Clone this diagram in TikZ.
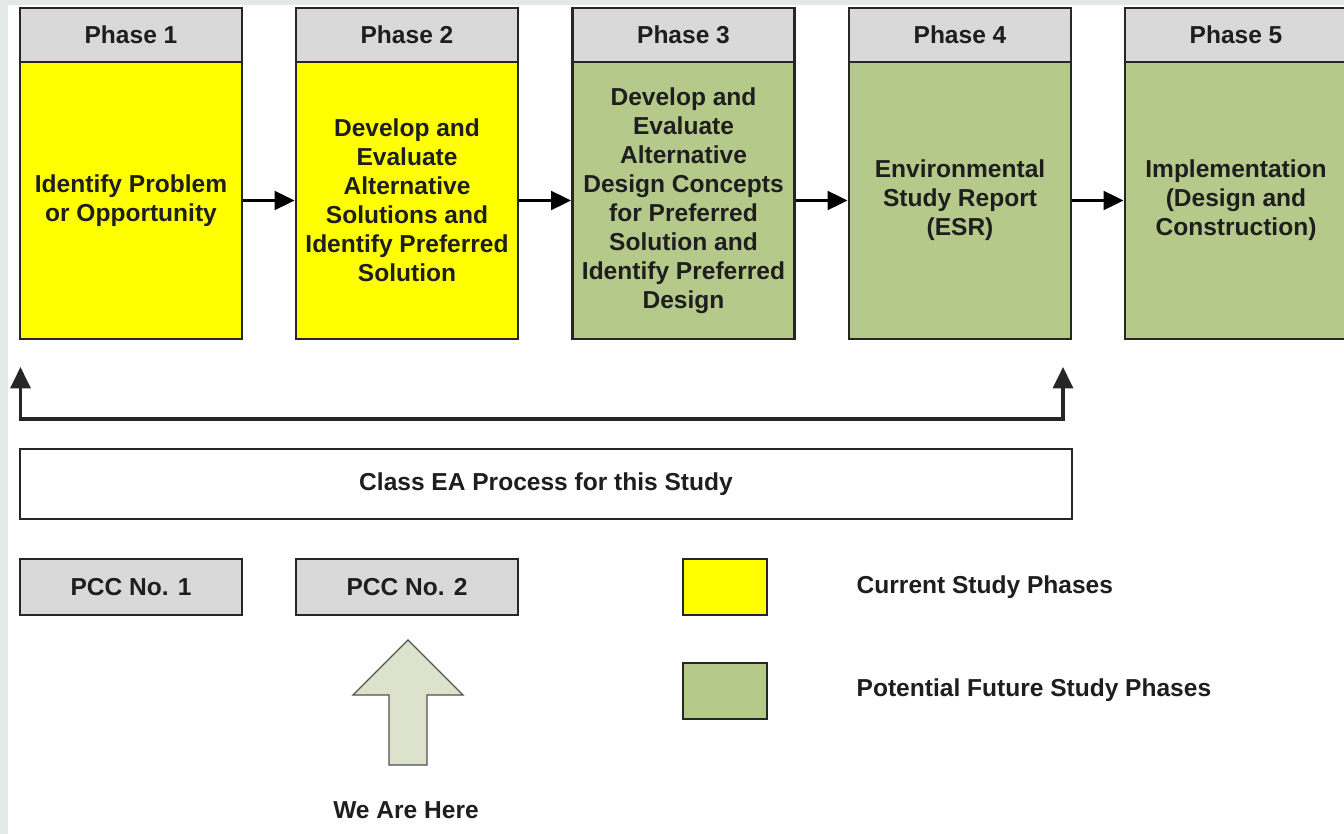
\documentclass[tikz,border=0pt]{standalone}
\usepackage{fontspec}
\setmainfont{Liberation Sans}
\usetikzlibrary{arrows.meta,calc}
\definecolor{hdrgray}{HTML}{D9D9D9}
\definecolor{curyellow}{HTML}{FFFF00}
\definecolor{futgreen}{HTML}{B5C98A}
\definecolor{edgedark}{HTML}{262626}
\definecolor{stripgray}{HTML}{E4E8E8}
\definecolor{herefill}{HTML}{DDE2CC}
\definecolor{txt}{HTML}{1E1E1E}
\begin{document}
\begin{tikzpicture}[x=0.75pt,y=-0.75pt,
  every node/.style={font=\fontsize{18.4}{21.75}\selectfont\bfseries, text=txt},
  box/.style={draw=edgedark, line width=2.1pt, rectangle, inner sep=0pt, align=center},
  hdr/.style={box, fill=hdrgray, minimum width=222*0.75pt, minimum height=54*0.75pt},
  body/.style={box, minimum width=222*0.75pt, minimum height=277*0.75pt},
  cur/.style={fill=curyellow},
  fut/.style={fill=futgreen},
  flow/.style={draw=black, line width=2.3pt, -{Triangle[length=15pt,width=14pt]}},
  loopline/.style={draw=edgedark, line width=2.3pt, {Triangle[length=16pt,width=15pt]}-{Triangle[length=16pt,width=15pt]}},
  legendbox/.style={box, minimum width=84*0.75pt, minimum height=56*0.75pt},
  legtext/.style={anchor=west}
]
\useasboundingbox (0,0) rectangle (1344,834);
\fill[stripgray] (0,0) rectangle (1344,834);
\fill[white] (8,5) rectangle (1344,834);

% phase headers
\node[hdr] (h1) at (131,35) {Phase 1};
\node[hdr] (h2) at (407,35) {Phase 2};
\node[hdr] (h3) at (683.5,35) {Phase 3};
\node[hdr] (h4) at (960,35) {Phase 4};
\node[hdr] (h5) at (1236,35) {Phase 5};

% phase bodies
\node[body,cur] (b1) at (131,200.5) {Identify Problem\\or Opportunity};
\node[body,cur] (b2) at (407,200.5) {Develop and\\Evaluate\\Alternative\\Solutions and\\Identify Preferred\\Solution};
\node[body,fut] (b3) at (683.5,200.5) {Develop and\\Evaluate\\Alternative\\Design Concepts\\for Preferred\\Solution and\\Identify Preferred\\Design};
\node[body,fut] (b4) at (960,200.5) {Environmental\\Study Report\\(ESR)};
\node[body,fut] (b5) at (1236,200.5) {Implementation\\(Design and\\Construction)};

% flow arrows
\draw[flow] (b1.east) -- (b2.west);
\draw[flow] (b2.east) -- (b3.west);
\draw[flow] (b3.east) -- (b4.west);
\draw[flow] (b4.east) -- (b5.west);

% loop back arrow
\coordinate (lt) at (20.5,367);
\coordinate (lb) at (20.5,419);
\coordinate (rb) at (1063,419);
\coordinate (rt) at (1063,367);
\draw[loopline] (lt) -- (lb) -- (rb) -- (rt);

% class EA box
\node[box, minimum width=1052*0.75pt, minimum height=70*0.75pt] (ea) at (546,484) {Class EA Process for this Study};

% PCC boxes
\node[hdr, minimum height=56*0.75pt] (p1) at (131,587) {PCC No. 1};
\node[hdr, minimum height=56*0.75pt] (p2) at (407,587) {PCC No. 2};

% we are here arrow
\draw[draw=edgedark!80, line width=1pt, fill=herefill, line join=miter]
  (408,640) -- (463,695) -- (427,695) -- (427,765) -- (389,765) -- (389,695) -- (353,695) -- cycle;
\node (here) at (406,810) {We Are Here};

% legend
\node[legendbox,cur] (lc) at (725,587) {};
\node[legendbox,fut] (lf) at (725,691) {};
\node[legtext] (lct) at (852,587) {Current Study Phases};
\node[legtext] (lft) at (852,690) {Potential Future Study Phases};
\end{tikzpicture}
\end{document}
